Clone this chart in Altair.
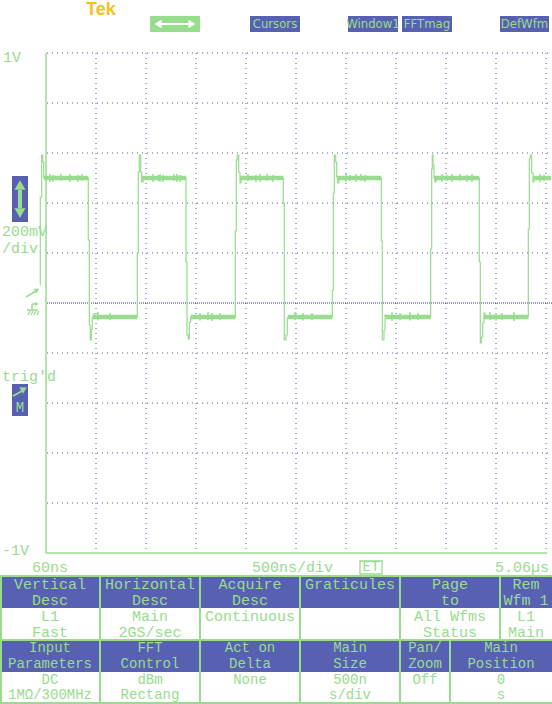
import altair as alt
import pandas as pd

GREEN = "#98DC8E"
BLUE = "#5860B2"
GRID = "#5456B6"
NAVY = "#34349A"
TEK = "#F5C21C"
WHITE = "#FFFFFF"
MONO = "Liberation Mono"
NARROW = "Liberation Sans Narrow, DejaVu Sans Condensed, Liberation Mono"

# ---------------- trace (time in µs, volts), step-after samples
wave_t = [0.000, 0.003, 0.017, 0.027, 0.037,
          0.483, 0.493, 0.503, 0.513, 0.523, 0.533, 0.543,
          0.973, 0.983, 0.993, 1.007, 1.017, 1.030,
          1.460, 1.470, 1.483, 1.493, 1.507,
          1.953, 1.963, 1.973, 1.987, 2.000, 2.010,
          2.433, 2.443, 2.460, 2.473, 2.480,
          2.923, 2.933, 2.943, 2.957, 2.967, 2.977, 2.990,
          3.413, 3.423, 3.440, 3.450, 3.460,
          3.907, 3.917, 3.923, 3.930, 3.940, 3.950, 3.960,
          4.393, 4.403, 4.413, 4.427, 4.440, 4.450,
          4.883, 4.893, 4.903, 4.917, 4.930, 4.940,
          5.110]
wave_v = [0.072, 0.424, 0.592, 0.564, 0.500,
          0.252, -0.088, -0.148, -0.104, -0.056, -0.044, -0.056,
          0.200, 0.524, 0.592, 0.524, 0.484, 0.500,
          0.164, -0.128, -0.144, -0.076, -0.056,
          0.288, 0.572, 0.592, 0.524, 0.480, 0.500,
          0.400, -0.148, -0.128, -0.060, -0.056,
          0.052, 0.440, 0.592, 0.564, 0.504, 0.480, 0.500,
          0.248, -0.148, -0.108, -0.048, -0.056,
          0.216, 0.536, 0.592, 0.552, 0.500, 0.484, 0.500,
          0.164, -0.160, -0.136, -0.080, -0.040, -0.056,
          0.296, 0.576, 0.592, 0.520, 0.484, 0.500,
          0.500]

# noisy flat parts of the trace
hi_start = [0.04, 1.02, 2.00, 2.97, 3.94, 4.93]
hi_end = [0.483, 1.46, 2.433, 3.413, 4.393, 5.11]
lo_start = [0.53, 1.51, 2.48, 3.46, 4.44]
lo_end = [0.973, 1.953, 2.923, 3.907, 4.883]
HI_LEVEL = 0.5
LO_LEVEL = -0.056
NOISE = 0.009

# a few noise spikes seen on the flat parts (µs, V)
spike_t = [0.10, 0.13, 0.21, 0.30, 0.38, 0.42, 1.13, 1.18, 1.20, 1.23, 1.34, 1.37, 1.40,
           2.08, 2.16, 2.20, 2.27, 2.33, 3.06, 3.10, 3.16, 3.21, 3.25, 4.02, 4.07, 4.12,
           4.20, 4.27, 4.32, 5.00, 5.04,
           0.70, 0.58, 1.60, 1.68, 1.72, 1.80, 2.55, 2.63, 2.72, 3.52, 3.60, 3.70, 3.78,
           4.50, 4.56, 4.62, 4.74]
spike_lo = [0.484, 0.484, 0.488, 0.484, 0.484, 0.488, 0.484, 0.488, 0.484, 0.484, 0.488, 0.484, 0.484,
            0.488, 0.484, 0.484, 0.488, 0.484, 0.484, 0.488, 0.484, 0.488, 0.484, 0.484, 0.488, 0.484,
            0.488, 0.484, 0.484, 0.484, 0.488,
            -0.068, -0.070, -0.070, -0.068, -0.072, -0.068, -0.068, -0.070, -0.068, -0.072, -0.068, -0.070, -0.068,
            -0.068, -0.070, -0.068, -0.072]
spike_hi = [0.516, 0.512, 0.516, 0.516, 0.512, 0.516, 0.516, 0.512, 0.516, 0.512, 0.516, 0.516, 0.512,
            0.516, 0.512, 0.516, 0.516, 0.512, 0.516, 0.512, 0.516, 0.516, 0.512, 0.516, 0.512, 0.516,
            0.516, 0.512, 0.516, 0.516, 0.512,
            -0.040, -0.036, -0.040, -0.036, -0.040, -0.040, -0.036, -0.040, -0.040, -0.036, -0.040, -0.036, -0.040,
            -0.036, -0.040, -0.040, -0.036]

# graticule
grid_t = [0.56, 1.06, 1.56, 2.06, 2.56, 3.06, 3.56, 4.06, 4.56, 5.06]
grid_v = [1.0, 0.8, 0.6, 0.4, 0.2, -0.2, -0.4, -0.6, -0.8]
T_MIN, T_MAX = 0.06, 5.06
V_MIN, V_MAX = -1.0, 1.0

# bottom menu
row1_centers = [50, 150, 250, 350, 450, 526]
row2_centers = [50, 150, 250, 350, 425, 501]
hdr1 = [("Vertical", "Desc"), ("Horizontal", "Desc"), ("Acquire", "Desc"),
        ("Graticules", ""), ("Page", "to"), ("Rem", "Wfm 1")]
val1 = [("L1", "Fast"), ("Main", "2GS/sec"), ("Continuous", ""),
        ("", ""), ("All Wfms", "Status"), ("L1", "Main")]
hdr2 = [("Input", "Parameters"), ("FFT", "Control"), ("Act on", "Delta"),
        ("Main", "Size"), ("Pan/", "Zoom"), ("Main", "Position")]
val2 = [("DC", "1MΩ/300MHz"), ("dBm", "Rectang"), ("None", ""),
        ("500n", "s/div"), ("Off", ""), ("0", "s")]
line_y = [584, 600, 616, 632, 648, 664, 680, 695]
line_size = [15, 15, 15, 15, 14, 14, 14, 14]

top_buttons = ["Cursors", "Window1", "FFTmag", "DefWfm"]
top_btn_x = [(250, 300), (348, 398), (402, 452), (500, 549)]

xs = alt.Scale(domain=[T_MIN, T_MAX], range=[46, 546])
ys = alt.Scale(domain=[V_MIN, V_MAX], range=[553, 53])


def PX(f):
    return alt.X(f, type="quantitative", scale=None, axis=None)


def PY(f):
    return alt.Y(f, type="quantitative", scale=None, axis=None)


# ---------------- layers
vgrid = alt.Chart(pd.DataFrame({"t": grid_t, "top": V_MAX, "bot": V_MIN})).mark_rule(
    color=GRID, strokeDash=[1, 4], strokeWidth=1).encode(
    x=alt.X("t:Q", scale=xs, axis=None), y=alt.Y("top:Q", scale=ys, axis=None), y2="bot")

hgrid = alt.Chart(pd.DataFrame({"v": grid_v})).mark_rule(
    color=GRID, strokeDash=[1, 4], strokeWidth=1).encode(
    y=alt.Y("v:Q", scale=ys, axis=None), x=alt.value(47), x2=alt.value(552))

ground = alt.Chart(pd.DataFrame({"v": [0.0]})).mark_rule(
    color=NAVY, strokeDash=[1, 1], strokeWidth=1).encode(
    y=alt.Y("v:Q", scale=ys, axis=None), x=alt.value(47), x2=alt.value(552))

left_border = alt.Chart(pd.DataFrame({"t": [T_MIN], "top": [V_MAX], "bot": [V_MIN]})).mark_rule(
    color=GREEN, strokeWidth=1.5).encode(
    x=alt.X("t:Q", scale=xs, axis=None), y=alt.Y("top:Q", scale=ys, axis=None), y2="bot")

bottom_border = alt.Chart(pd.DataFrame({"v": [V_MIN]})).mark_rule(
    color=GREEN, strokeWidth=1.5).encode(
    y=alt.Y("v:Q", scale=ys, axis=None), x=alt.value(46), x2=alt.value(547))

bands_df = pd.DataFrame({
    "t0": hi_start + lo_start,
    "t1": hi_end + lo_end,
    "lvl": [HI_LEVEL] * len(hi_start) + [LO_LEVEL] * len(lo_start)})
bands_df["lo"] = bands_df["lvl"] - NOISE
bands_df["hi"] = bands_df["lvl"] + NOISE
bands = alt.Chart(bands_df).mark_rect(color=GREEN).encode(
    x=alt.X("t0:Q", scale=xs, axis=None), x2="t1",
    y=alt.Y("lo:Q", scale=ys, axis=None), y2="hi")

spikes = alt.Chart(pd.DataFrame({"t": spike_t, "lo": spike_lo, "hi": spike_hi})).mark_rule(
    color=GREEN, strokeWidth=1.5).encode(
    x=alt.X("t:Q", scale=xs, axis=None), y=alt.Y("lo:Q", scale=ys, axis=None), y2="hi")

wave = alt.Chart(pd.DataFrame({"t": wave_t, "v": wave_v})).mark_line(
    interpolate="step-after", color=GREEN, strokeWidth=1.2).encode(
    x=alt.X("t:Q", scale=xs, axis=None), y=alt.Y("v:Q", scale=ys, axis=None), order="t:Q")

# rectangles (buttons, menu headers)
rects = [(150, 16, 200, 32, GREEN)]
for (a, b) in top_btn_x:
    rects.append((a, 16, b, 32, BLUE))
rects += [(12, 176, 28, 222, BLUE), (12, 384, 28, 416, BLUE),
          (0, 576, 552, 608, BLUE), (0, 640, 552, 672, BLUE)]
rect_df = pd.DataFrame(rects, columns=["x1", "y1", "x2", "y2", "c"])
rect_layer = alt.Chart(rect_df).mark_rect().encode(
    x=PX("x1"), x2="x2", y=PY("y1"), y2="y2", color=alt.Color("c:N", scale=None))

et_box = alt.Chart(pd.DataFrame({"x1": [360], "x2": [382], "y1": [561], "y2": [574]})).mark_rect(
    fill=None, stroke=GREEN, strokeWidth=1.3).encode(x=PX("x1"), x2="x2", y=PY("y1"), y2="y2")

# line segments: menu grid, small glyphs
segs = [(0, 576, 552, 576, GREEN, 2), (0, 640, 552, 640, GREEN, 2), (0, 703, 552, 703, GREEN, 2)]
for xv in [1, 100, 200, 300, 400, 500]:
    segs.append((xv, 576, xv, 640, GREEN, 2))
for xv in [1, 100, 200, 300, 400, 450]:
    segs.append((xv, 640, xv, 704, GREEN, 2))
segs += [
    (20, 190, 20, 208, GREEN, 4),          # up/down arrow shaft
    (26, 297, 36, 291, GREEN, 1.5),        # trigger level arrow
    (32, 304, 32, 310, GREEN, 1.5),        # ground stem
    (32, 304, 36, 304, GREEN, 1.5),
    (27, 310, 38, 310, GREEN, 1.5),        # ground bar
    (28, 315, 30, 311, GREEN, 1.2), (31, 315, 33, 311, GREEN, 1.2),
    (34, 315, 36, 311, GREEN, 1.2), (37, 315, 39, 311, GREEN, 1.2),
    (13, 396, 22, 391, GREEN, 1.8),        # trig'd arrow
    (160, 24, 190, 24, WHITE, 2),          # horizontal double arrow
]
seg_df = pd.DataFrame(segs, columns=["x1", "y1", "x2", "y2", "c", "w"])
seg_layer = alt.Chart(seg_df).mark_rule().encode(
    x=PX("x1"), x2="x2", y=PY("y1"), y2="y2",
    color=alt.Color("c:N", scale=None), strokeWidth=alt.StrokeWidth("w:Q", scale=None))

pts = [
    (20, 185, "triangle-up", 120, 0, GREEN),
    (20, 213, "triangle-down", 120, 0, GREEN),
    (37, 290, "triangle-up", 30, 60, GREEN),
    (37, 304, "triangle-right", 18, 0, GREEN),
    (24, 389, "triangle-up", 55, 62, GREEN),
    (158, 24, "triangle-left", 70, 0, WHITE),
    (192, 24, "triangle-right", 70, 0, WHITE),
]
pt_df = pd.DataFrame(pts, columns=["x", "y", "shape", "size", "ang", "c"])
pt_layer = alt.Chart(pt_df).mark_point(filled=True, opacity=1, strokeWidth=0).encode(
    x=PX("x"), y=PY("y"), shape=alt.Shape("shape:N", scale=None),
    size=alt.Size("size:Q", scale=None), angle=alt.Angle("ang:Q", scale=None),
    color=alt.Color("c:N", scale=None))

# texts
menu_txt = []
for rows, centers, (ya, yb) in [(hdr1, row1_centers, (0, 1)), (val1, row1_centers, (2, 3)),
                                (hdr2, row2_centers, (4, 5)), (val2, row2_centers, (6, 7))]:
    for (l1, l2), cx in zip(rows, centers):
        if l1:
            menu_txt.append((cx, line_y[ya], l1, line_size[ya]))
        if l2:
            menu_txt.append((cx, line_y[yb], l2, line_size[yb]))
menu_df = pd.DataFrame(menu_txt, columns=["x", "y", "s", "f"])
menu_layer = alt.Chart(menu_df).mark_text(
    font=MONO, color=GREEN, align="center", baseline="middle").encode(
    x=PX("x"), y=PY("y"), text="s:N", size=alt.Size("f:Q", scale=None))

left_txt = pd.DataFrame([(3, 57, "1V"), (2, 231, "200mV"), (2, 248, "/div"),
                         (2, 376, "trig'd"), (2, 550, "-1V"), (32, 567, "60ns"),
                         (252, 567, "500ns/div")], columns=["x", "y", "s"])
left_layer = alt.Chart(left_txt).mark_text(
    font=MONO, fontSize=15, color=GREEN, align="left", baseline="middle").encode(
    x=PX("x"), y=PY("y"), text="s:N")

right_layer = alt.Chart(pd.DataFrame({"x": [549], "y": [567], "s": ["5.06µs"]})).mark_text(
    font=MONO, fontSize=15, color=GREEN, align="right", baseline="middle").encode(
    x=PX("x"), y=PY("y"), text="s:N")

small_txt = pd.DataFrame([(371, 567, "ET", 14), (20, 408, "M", 14)], columns=["x", "y", "s", "f"])
small_layer = alt.Chart(small_txt).mark_text(
    font=MONO, color=GREEN, align="center", baseline="middle").encode(
    x=PX("x"), y=PY("y"), text="s:N", size=alt.Size("f:Q", scale=None))

btn_df = pd.DataFrame({"x": [(a + b) / 2 for a, b in top_btn_x], "y": [24] * 4, "s": top_buttons})
btn_layer = alt.Chart(btn_df).mark_text(
    font=NARROW, fontSize=13, color=GREEN, align="center", baseline="middle").encode(
    x=PX("x"), y=PY("y"), text="s:N")

tek = alt.Chart(pd.DataFrame({"x": [86], "y": [1], "s": ["Tek"]})).mark_text(
    font="Liberation Sans", fontWeight="bold", fontSize=18, color=TEK,
    align="left", baseline="top").encode(x=PX("x"), y=PY("y"), text="s:N")

chart = alt.layer(
    rect_layer, vgrid, hgrid, ground, left_border, bottom_border, bands, spikes, wave,
    et_box, seg_layer, pt_layer, menu_layer, left_layer, right_layer, small_layer,
    btn_layer, tek
).properties(
    width=552, height=704, autosize=alt.AutoSizeParams(type="none"), padding=0,
    background="white"
).configure_view(stroke=None)

chart.save("out.html", embed_options={"renderer": "svg", "actions": False})
